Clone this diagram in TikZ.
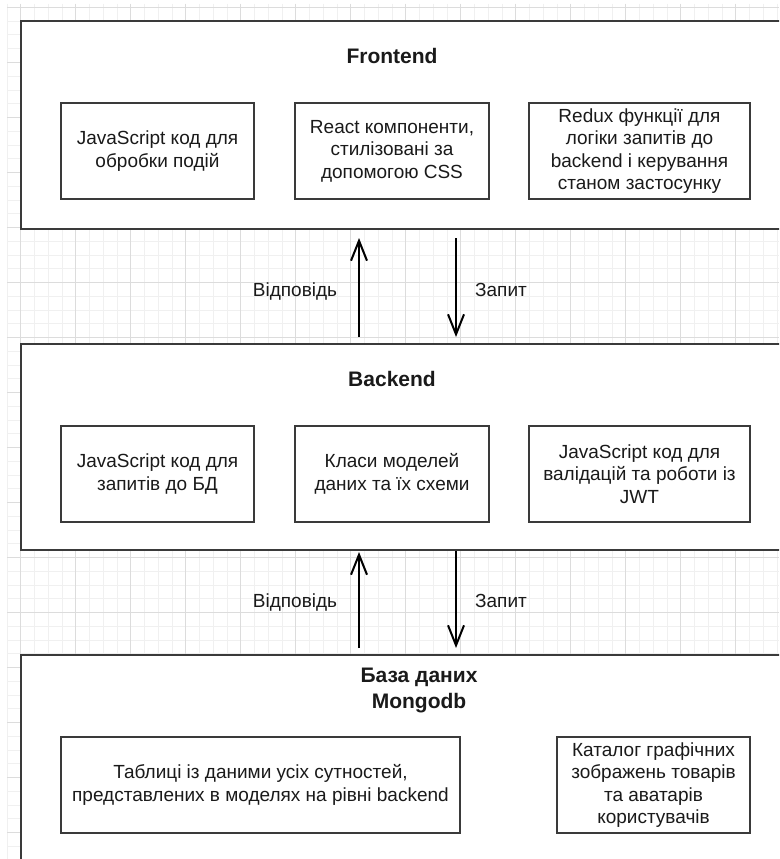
\documentclass[tikz,border=0pt]{standalone}
\usepackage{fontspec}
\setmainfont{Liberation Sans}
\usetikzlibrary{arrows.meta,positioning}

\definecolor{gridminor}{HTML}{F0F0F0}
\definecolor{gridmajor}{HTML}{DCDCDC}
\definecolor{frame}{HTML}{3A3A3A}
\definecolor{ink}{HTML}{1A1A1A}

\begin{document}
\begin{tikzpicture}
  [
  x=1pt, y=-1pt,
  >={Straight Barb[length=20pt,width=16pt]},
  layer/.style={rectangle, draw=frame, line width=1.8pt, anchor=north west,
    minimum width=770pt, inner sep=0pt},
  part/.style={rectangle, draw=frame, line width=1.5pt, inner sep=0pt,
    minimum height=96pt, align=center, text=ink,
    font=\fontsize{19}{22.6}\selectfont},
  title/.style={font=\fontsize{21}{26}\selectfont\bfseries, align=center, text=ink},
  flow/.style={->, line width=2pt, black},
  flowlabel/.style={font=\fontsize{19}{22.6}\selectfont, text=ink}
  ]

  \useasboundingbox (0,0) rectangle (779,859);
  \clip (0,0) rectangle (779,859);
  \fill[white] (0,0) rectangle (779,859);

  % background grid
  \foreach \i in {0,...,56} {
    \draw[gridminor, line width=0.6pt] (6.95+13.75*\i,4) -- (6.95+13.75*\i,859);
  }
  \foreach \j in {0,...,62} {
    \draw[gridminor, line width=0.6pt] (7,7.3+13.75*\j) -- (779,7.3+13.75*\j);
  }
  \foreach \i in {0,...,14} {
    \draw[gridmajor, line width=0.8pt] (20.7+55*\i,4) -- (20.7+55*\i,859);
  }
  \foreach \j in {0,...,15} {
    \draw[gridmajor, line width=0.8pt] (7,7.3+55*\j) -- (779,7.3+55*\j);
  }

  % layers
  \node[layer, fill=white, minimum height=208pt] (front) at (20,20) {};
  \node[layer, fill=white, minimum height=206pt] (back) at (20,343) {};
  \node[layer, fill=white, minimum height=216pt] (db) at (20,654) {};

  \node[title] (fronttitle) at (392,56) {Frontend};
  \node[title] (backtitle) at (392,379) {Backend};
  \node[title] (dbtitle) at (419,690) {База даних\\Mongodb};

  % frontend parts
  \node[part, minimum width=193pt] (events) at (157.5,151) {JavaScript код для\\обробки подій};
  \node[part, minimum width=194pt] (react) at (392,151) {React компоненти,\\стилізовані за\\допомогою CSS};
  \node[part, minimum width=221pt] (redux) at (639.5,151) {Redux функції для\\логіки запитів до\\backend і керування\\станом застосунку};

  % backend parts
  \node[part, minimum width=193pt] (queries) at (157.5,474) {JavaScript код для\\запитів до БД};
  \node[part, minimum width=194pt] (models) at (392,474) {Класи моделей\\даних та їх схеми};
  \node[part, minimum width=221pt] (jwt) at (639.5,474) {JavaScript код для\\валідацій та роботи із\\JWT};

  % database parts
  \node[part, minimum width=399pt] (tables) at (260.5,785) {Таблиці із даними усіх сутностей,\\представлених в моделях на рівні backend};
  \node[part, minimum width=193pt] (images) at (653.5,785) {Каталог графічних\\зображень товарів\\та аватарів\\користувачів};

  % connectors
  \coordinate (fbup0) at (359,337);
  \coordinate (fbup1) at (359,238);
  \coordinate (fbdn0) at (456,238);
  \coordinate (fbdn1) at (456,337);
  \coordinate (bdup0) at (359,648);
  \coordinate (bdup1) at (359,552);
  \coordinate (bddn0) at (456,551);
  \coordinate (bddn1) at (456,648);

  \draw[flow] (fbup0) -- (fbup1);
  \draw[flow] (fbdn0) -- (fbdn1);
  \draw[flow] (bdup0) -- (bdup1);
  \draw[flow] (bddn0) -- (bddn1);

  \node[flowlabel] (resp1) at (295,292) {Відповідь};
  \node[flowlabel] (req1) at (501,290) {Запит};
  \node[flowlabel] (resp2) at (295,603) {Відповідь};
  \node[flowlabel] (req2) at (501,601) {Запит};
\end{tikzpicture}
\end{document}
